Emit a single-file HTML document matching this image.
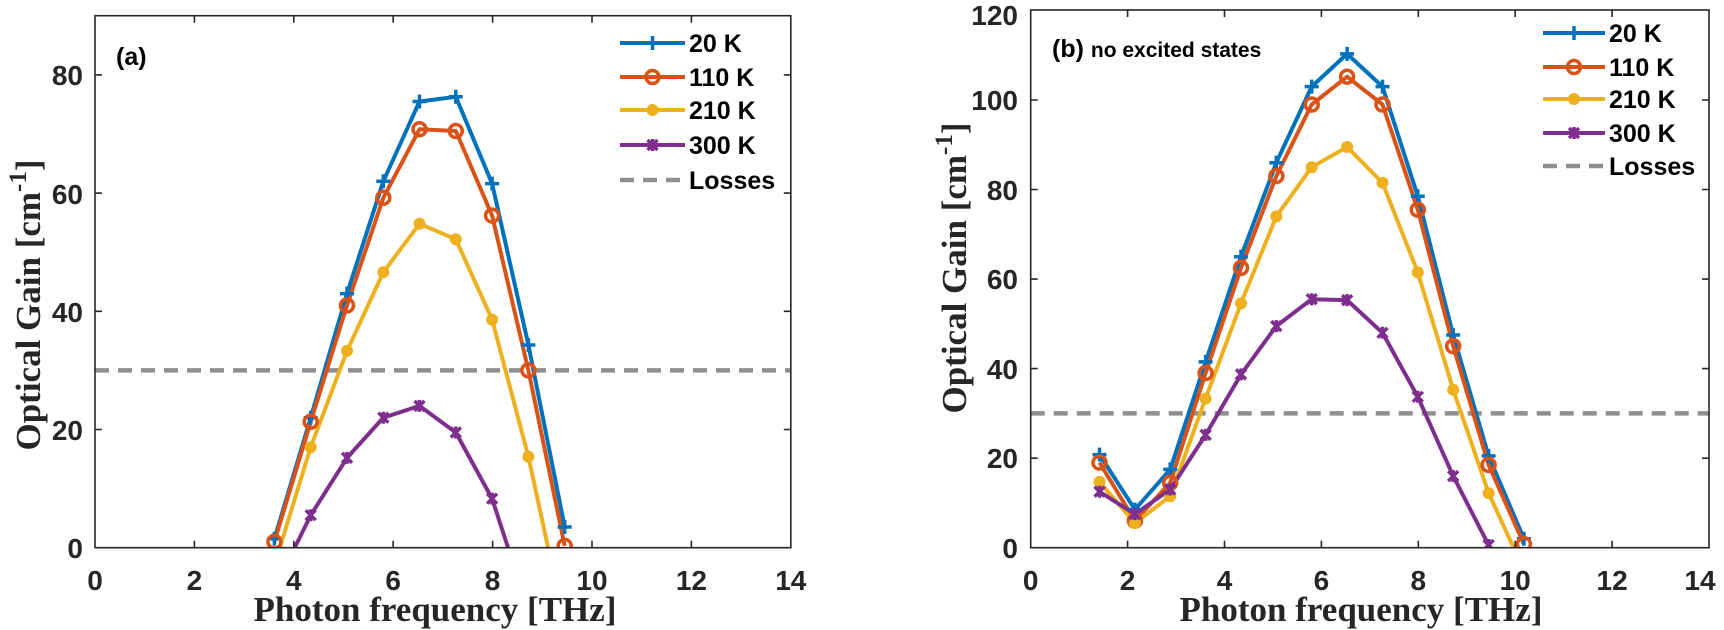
<!DOCTYPE html>
<html><head><meta charset="utf-8"><style>
html,body{margin:0;padding:0;background:#fff;}
svg{display:block;}
.tk{font-family:"Liberation Sans",Arial,sans-serif;font-weight:bold;font-size:28px;fill:#262626;}
.lab{font-family:"Liberation Serif","Times New Roman",serif;font-weight:bold;font-size:35px;fill:#262626;}
.lg{font-family:"Liberation Sans",Arial,sans-serif;font-weight:bold;font-size:25px;fill:#000;}
</style></head><body>
<svg width="1724" height="630" viewBox="0 0 1724 630" xmlns="http://www.w3.org/2000/svg">
<defs>
<clipPath id="ca"><rect x="95" y="15.7" width="695.8" height="532"/></clipPath>
<clipPath id="cb"><rect x="1030.7" y="10" width="678.3" height="537.7"/></clipPath>
<g id="mp"><path d="M-7 0H7M0 -7V7" stroke="#0072BD" stroke-width="3.5"/></g>
<g id="mo"><circle r="6.5" fill="none" stroke="#D95319" stroke-width="3.5"/></g>
<g id="mf"><circle r="6" fill="#EDB120"/></g>
<g id="mx"><path d="M-5 -5L5 5M-5 5L5 -5M0 -6V6" stroke="#7E2F8E" stroke-width="3.5"/></g>
</defs>
<rect width="1724" height="630" fill="#fff"/>

<!-- ===== Panel A ===== -->
<g clip-path="url(#ca)" fill="none" stroke-linejoin="round">
<line x1="95" y1="370.4" x2="791" y2="370.4" stroke="#8f8f8f" stroke-width="4.5" stroke-dasharray="14,9"/>
<polyline stroke="#0072BD" stroke-width="4" points="274.4,538.8 310.7,417.7 347,293.6 383.3,181.3 419.5,101.5 455.8,96.8 492.1,183.6 528.4,345 564.7,527"/>
<polyline stroke="#D95319" stroke-width="4" points="274.4,541.8 310.7,421.8 347,305.4 383.3,197.8 419.5,129.3 455.8,131 492.1,215.6 528.4,370.4 564.7,545.9"/>
<polyline stroke="#EDB120" stroke-width="4" points="274.4,565.4 310.7,447.2 347,350.9 383.3,272.3 419.5,223.8 455.8,239.2 492.1,319.6 528.4,456.7 564.7,624.5"/>
<polyline stroke="#7E2F8E" stroke-width="4" points="274.4,589.1 310.7,515.2 347,457.9 383.3,417.7 419.5,405.9 455.8,432.5 492.1,498.6 528.4,610.3"/>
<use href="#mp" x="274.4" y="538.8"/><use href="#mp" x="310.7" y="417.7"/><use href="#mp" x="347" y="293.6"/><use href="#mp" x="383.3" y="181.3"/><use href="#mp" x="419.5" y="101.5"/><use href="#mp" x="455.8" y="96.8"/><use href="#mp" x="492.1" y="183.6"/><use href="#mp" x="528.4" y="345"/><use href="#mp" x="564.7" y="527"/>
<use href="#mo" x="274.4" y="541.8"/><use href="#mo" x="310.7" y="421.8"/><use href="#mo" x="347" y="305.4"/><use href="#mo" x="383.3" y="197.8"/><use href="#mo" x="419.5" y="129.3"/><use href="#mo" x="455.8" y="131"/><use href="#mo" x="492.1" y="215.6"/><use href="#mo" x="528.4" y="370.4"/><use href="#mo" x="564.7" y="545.9"/>
<use href="#mf" x="310.7" y="447.2"/><use href="#mf" x="347" y="350.9"/><use href="#mf" x="383.3" y="272.3"/><use href="#mf" x="419.5" y="223.8"/><use href="#mf" x="455.8" y="239.2"/><use href="#mf" x="492.1" y="319.6"/><use href="#mf" x="528.4" y="456.7"/>
<use href="#mx" x="310.7" y="515.2"/><use href="#mx" x="347" y="457.9"/><use href="#mx" x="383.3" y="417.7"/><use href="#mx" x="419.5" y="405.9"/><use href="#mx" x="455.8" y="432.5"/><use href="#mx" x="492.1" y="498.6"/>
</g>
<g stroke="#262626" stroke-width="1.6" fill="none">
<rect x="95" y="15.7" width="695.8" height="532"/>
<path d="M194.4 547.7v-7M293.8 547.7v-7M393.2 547.7v-7M492.6 547.7v-7M592 547.7v-7M691.4 547.7v-7
M194.4 15.7v7M293.8 15.7v7M393.2 15.7v7M492.6 15.7v7M592 15.7v7M691.4 15.7v7
M95 429.5h7M95 311.3h7M95 193.1h7M95 74.9h7
M790.8 429.5h-7M790.8 311.3h-7M790.8 193.1h-7M790.8 74.9h-7"/>
</g>
<g class="tk" text-anchor="middle">
<text x="95" y="590">0</text><text x="194.4" y="590">2</text><text x="293.8" y="590">4</text><text x="393.2" y="590">6</text><text x="492.6" y="590">8</text><text x="592" y="590">10</text><text x="691.4" y="590">12</text><text x="790.8" y="590">14</text>
</g>
<g class="tk" text-anchor="end">
<text x="83" y="558">0</text><text x="83" y="440">20</text><text x="83" y="322">40</text><text x="83" y="204">60</text><text x="83" y="85">80</text>
</g>
<text class="tk" x="116" y="65" style="font-size:25px;fill:#000">(a)</text>
<text class="lab" x="435" y="621" text-anchor="middle">Photon frequency [THz]</text>
<text class="lab" transform="translate(40,305) rotate(-90)" text-anchor="middle">Optical Gain [cm<tspan dy="-14" font-size="25">-1</tspan><tspan dy="14">]</tspan></text>
<!-- legend A -->
<g stroke-width="4">
<line x1="620" y1="43" x2="685" y2="43" stroke="#0072BD"/><use href="#mp" x="652.5" y="43"/>
<line x1="620" y1="77" x2="685" y2="77" stroke="#D95319"/><use href="#mo" x="652.5" y="77"/>
<line x1="620" y1="110" x2="685" y2="110" stroke="#EDB120"/><use href="#mf" x="652.5" y="110"/>
<line x1="620" y1="145" x2="685" y2="145" stroke="#7E2F8E"/><use href="#mx" x="652.5" y="145"/>
<line x1="620" y1="180" x2="685" y2="180" stroke="#8f8f8f" stroke-width="4.5" stroke-dasharray="14,9"/>
</g>
<g class="lg"><text x="689" y="52">20 K</text><text x="689" y="86">110 K</text><text x="689" y="119">210 K</text><text x="689" y="154">300 K</text><text x="689" y="189">Losses</text></g>

<!-- ===== Panel B ===== -->
<g clip-path="url(#cb)" fill="none" stroke-linejoin="round">
<line x1="1030.7" y1="413.4" x2="1709" y2="413.4" stroke="#8f8f8f" stroke-width="4.5" stroke-dasharray="14,9"/>
<polyline stroke="#0072BD" stroke-width="4" points="1099.5,454.6 1134.9,509.6 1170.2,469.4 1205.6,361.9 1241,256.7 1276.3,162.7 1311.7,86.6 1347.1,53.9 1382.5,86.6 1417.8,196.3 1453.2,335 1488.6,455.9 1523.9,538.7"/>
<polyline stroke="#D95319" stroke-width="4" points="1099.5,462.6 1134.9,520.8 1170.2,482.8 1205.6,373.1 1241,267.9 1276.3,176.1 1311.7,104.5 1347.1,76.7 1382.5,104.5 1417.8,209.7 1453.2,346.2 1488.6,464.9 1523.9,544.1"/>
<polyline stroke="#EDB120" stroke-width="4" points="1099.5,481.9 1134.9,523.1 1170.2,496.2 1205.6,398.6 1241,303.3 1276.3,216.4 1311.7,167.2 1347.1,147 1382.5,182.8 1417.8,272.4 1453.2,389.7 1488.6,493.1 1523.9,570.1"/>
<polyline stroke="#7E2F8E" stroke-width="4" points="1099.5,491.7 1134.9,514.1 1170.2,489.5 1205.6,434.9 1241,374.4 1276.3,326.1 1311.7,299.2 1347.1,300.1 1382.5,332.8 1417.8,396.8 1453.2,476.1 1488.6,545"/>
<use href="#mp" x="1099.5" y="454.6"/><use href="#mp" x="1134.9" y="509.6"/><use href="#mp" x="1170.2" y="469.4"/><use href="#mp" x="1205.6" y="361.9"/><use href="#mp" x="1241" y="256.7"/><use href="#mp" x="1276.3" y="162.7"/><use href="#mp" x="1311.7" y="86.6"/><use href="#mp" x="1347.1" y="53.9"/><use href="#mp" x="1382.5" y="86.6"/><use href="#mp" x="1417.8" y="196.3"/><use href="#mp" x="1453.2" y="335"/><use href="#mp" x="1488.6" y="455.9"/><use href="#mp" x="1523.9" y="538.7"/>
<use href="#mo" x="1099.5" y="462.6"/><use href="#mo" x="1134.9" y="520.8"/><use href="#mo" x="1170.2" y="482.8"/><use href="#mo" x="1205.6" y="373.1"/><use href="#mo" x="1241" y="267.9"/><use href="#mo" x="1276.3" y="176.1"/><use href="#mo" x="1311.7" y="104.5"/><use href="#mo" x="1347.1" y="76.7"/><use href="#mo" x="1382.5" y="104.5"/><use href="#mo" x="1417.8" y="209.7"/><use href="#mo" x="1453.2" y="346.2"/><use href="#mo" x="1488.6" y="464.9"/><use href="#mo" x="1523.9" y="544.1"/>
<use href="#mf" x="1099.5" y="481.9"/><use href="#mf" x="1134.9" y="523.1"/><use href="#mf" x="1170.2" y="496.2"/><use href="#mf" x="1205.6" y="398.6"/><use href="#mf" x="1241" y="303.3"/><use href="#mf" x="1276.3" y="216.4"/><use href="#mf" x="1311.7" y="167.2"/><use href="#mf" x="1347.1" y="147"/><use href="#mf" x="1382.5" y="182.8"/><use href="#mf" x="1417.8" y="272.4"/><use href="#mf" x="1453.2" y="389.7"/><use href="#mf" x="1488.6" y="493.1"/>
<use href="#mx" x="1099.5" y="491.7"/><use href="#mx" x="1134.9" y="514.1"/><use href="#mx" x="1170.2" y="489.5"/><use href="#mx" x="1205.6" y="434.9"/><use href="#mx" x="1241" y="374.4"/><use href="#mx" x="1276.3" y="326.1"/><use href="#mx" x="1311.7" y="299.2"/><use href="#mx" x="1347.1" y="300.1"/><use href="#mx" x="1382.5" y="332.8"/><use href="#mx" x="1417.8" y="396.8"/><use href="#mx" x="1453.2" y="476.1"/><use href="#mx" x="1488.6" y="545"/>
</g>
<g stroke="#262626" stroke-width="1.6" fill="none">
<rect x="1030.7" y="10" width="678.3" height="537.7"/>
<path d="M1127.6 547.7v-7M1224.5 547.7v-7M1321.4 547.7v-7M1418.3 547.7v-7M1515.2 547.7v-7M1612.1 547.7v-7
M1127.6 10v7M1224.5 10v7M1321.4 10v7M1418.3 10v7M1515.2 10v7M1612.1 10v7
M1030.7 458.2h7M1030.7 368.6h7M1030.7 279.1h7M1030.7 189.5h7M1030.7 100h7
M1709 458.2h-7M1709 368.6h-7M1709 279.1h-7M1709 189.5h-7M1709 100h-7"/>
</g>
<g class="tk" text-anchor="middle">
<text x="1030.7" y="590">0</text><text x="1127.6" y="590">2</text><text x="1224.5" y="590">4</text><text x="1321.4" y="590">6</text><text x="1418.3" y="590">8</text><text x="1515.2" y="590">10</text><text x="1612.1" y="590">12</text><text x="1700" y="590">14</text>
</g>
<g class="tk" text-anchor="end">
<text x="1018" y="558">0</text><text x="1018" y="468">20</text><text x="1018" y="379">40</text><text x="1018" y="289">60</text><text x="1018" y="200">80</text><text x="1018" y="110">100</text><text x="1018" y="25">120</text>
</g>
<text class="tk" x="1052" y="57" style="font-size:25px;fill:#000">(b) <tspan font-size="21">no excited states</tspan></text>
<text class="lab" x="1361" y="621" text-anchor="middle">Photon frequency [THz]</text>
<text class="lab" transform="translate(966,268) rotate(-90)" text-anchor="middle">Optical Gain [cm<tspan dy="-14" font-size="25">-1</tspan><tspan dy="14">]</tspan></text>
<!-- legend B -->
<g stroke-width="4">
<line x1="1543" y1="33" x2="1605" y2="33" stroke="#0072BD"/><use href="#mp" x="1574" y="33"/>
<line x1="1543" y1="67" x2="1605" y2="67" stroke="#D95319"/><use href="#mo" x="1574" y="67"/>
<line x1="1543" y1="99" x2="1605" y2="99" stroke="#EDB120"/><use href="#mf" x="1574" y="99"/>
<line x1="1543" y1="133" x2="1605" y2="133" stroke="#7E2F8E"/><use href="#mx" x="1574" y="133"/>
<line x1="1543" y1="166" x2="1605" y2="166" stroke="#8f8f8f" stroke-width="4.5" stroke-dasharray="14,9"/>
</g>
<g class="lg"><text x="1609" y="42">20 K</text><text x="1609" y="76">110 K</text><text x="1609" y="108">210 K</text><text x="1609" y="142">300 K</text><text x="1609" y="175">Losses</text></g>
</svg>
</body></html>
